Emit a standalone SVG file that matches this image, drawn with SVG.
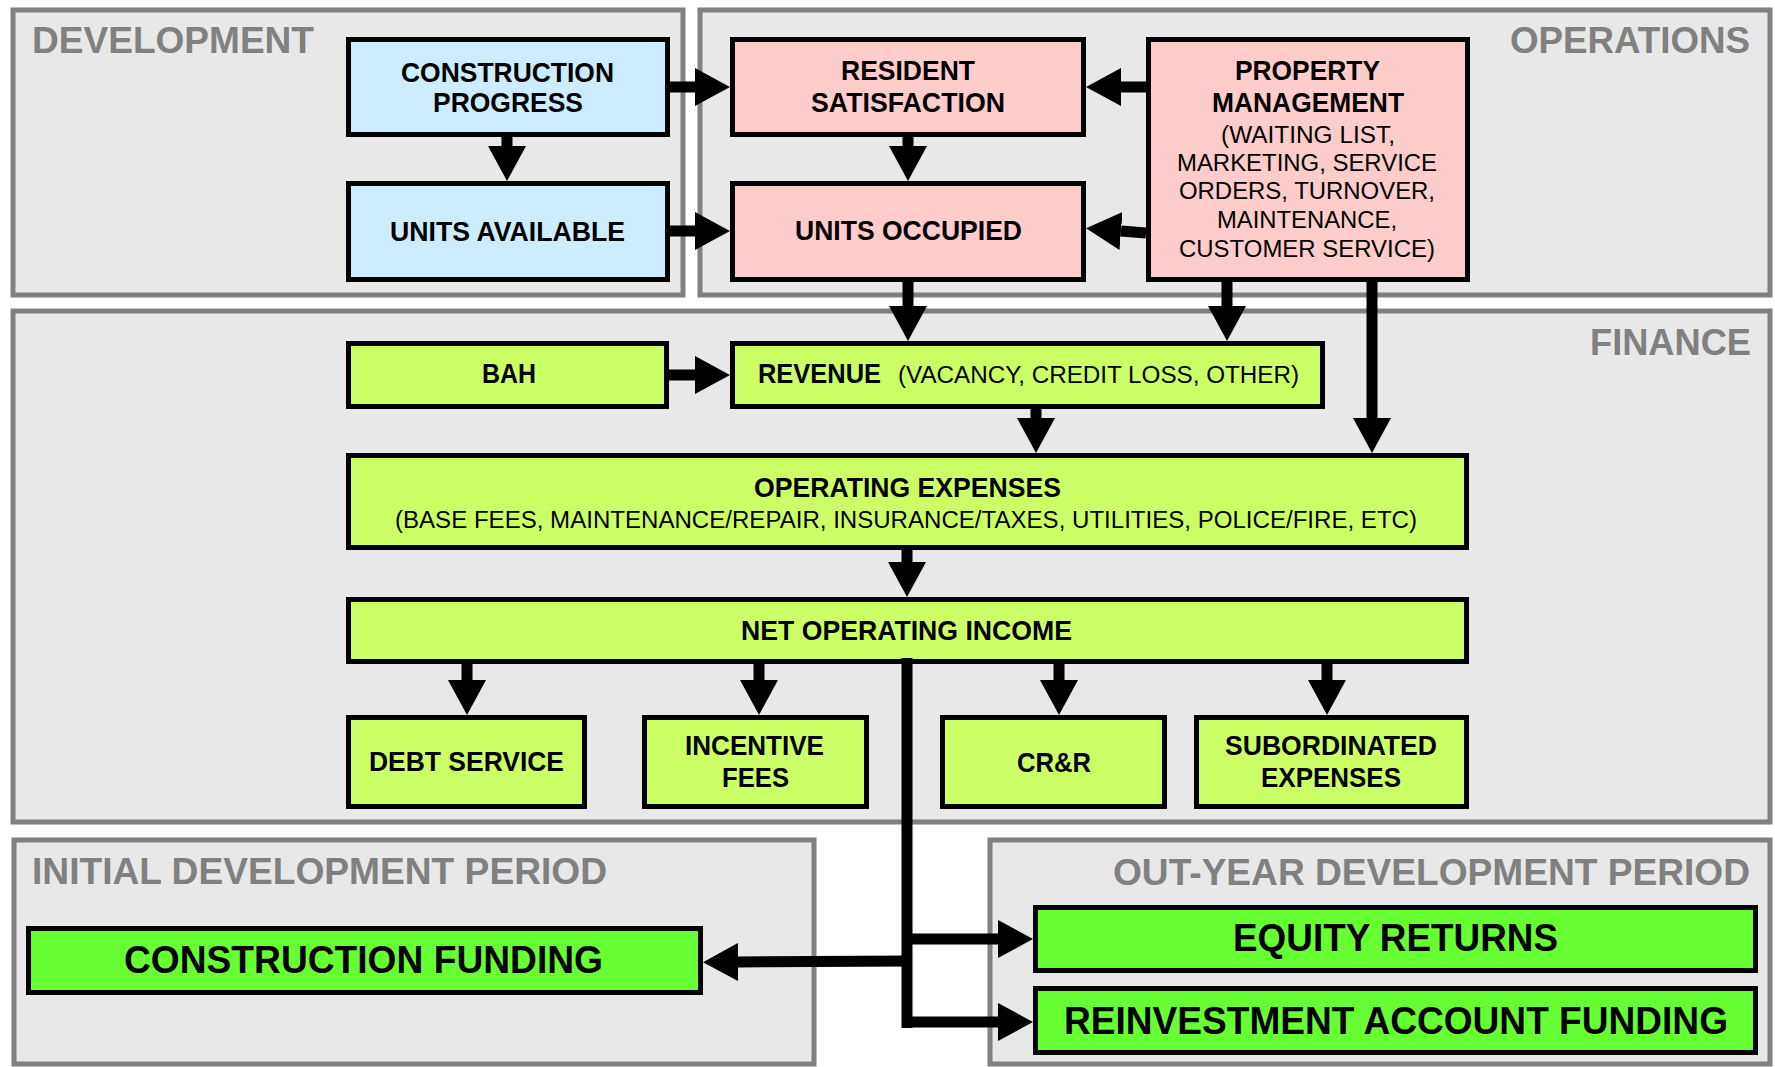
<svg xmlns="http://www.w3.org/2000/svg" width="1775" height="1067" viewBox="0 0 1775 1067">
<defs>
<style>
.panel{fill:#e8e8e8;stroke:#808080;stroke-width:5}
.plabel{font-family:"Liberation Sans",Arial,sans-serif;font-weight:bold;font-size:37px;fill:#808080}
.box{stroke:#000;stroke-width:5}
.blue{fill:#ccecff}
.pink{fill:#ffcccc}
.lime{fill:#ccff66}
.green{fill:#66ff33}
.t{font-family:"Liberation Sans",Arial,sans-serif;font-weight:bold;font-size:28px;fill:#000}
.r{font-family:"Liberation Sans",Arial,sans-serif;font-weight:normal;font-size:23px;fill:#000}
.big{font-family:"Liberation Sans",Arial,sans-serif;font-weight:bold;font-size:38px;fill:#000}
.c{fill:none;stroke:#000;stroke-width:11}
.ca{fill:none;stroke:#000;stroke-width:11;marker-end:url(#ah)}
</style>
<marker id="ah" markerUnits="userSpaceOnUse" markerWidth="36" markerHeight="38" viewBox="0 0 36 38" refX="0" refY="19" orient="auto">
<path d="M0,0 L35,19 L0,38 Z" fill="#000"/>
</marker>
</defs>

<g id="panels">
<rect class="panel" x="13" y="10" width="670" height="285"/>
<rect class="panel" x="700" y="10" width="1070" height="285"/>
<rect class="panel" x="13" y="311" width="1757" height="511"/>
<rect class="panel" x="14" y="840" width="800" height="224"/>
<rect class="panel" x="990" y="840" width="780" height="224"/>
<text class="plabel" x="32" y="53" textLength="282" lengthAdjust="spacingAndGlyphs">DEVELOPMENT</text>
<text class="plabel" x="1510" y="53" textLength="240" lengthAdjust="spacingAndGlyphs">OPERATIONS</text>
<text class="plabel" x="1590" y="355" textLength="161" lengthAdjust="spacingAndGlyphs">FINANCE</text>
<text class="plabel" x="32" y="884" textLength="575" lengthAdjust="spacingAndGlyphs">INITIAL DEVELOPMENT PERIOD</text>
<text class="plabel" x="1113" y="885" textLength="637" lengthAdjust="spacingAndGlyphs">OUT-YEAR DEVELOPMENT PERIOD</text>
</g>

<g id="construction-progress">
<rect class="box blue" x="348.5" y="39.5" width="319" height="95"/>
<text class="t" x="401" y="82" textLength="213" lengthAdjust="spacingAndGlyphs">CONSTRUCTION</text>
<text class="t" x="433" y="112" textLength="150" lengthAdjust="spacingAndGlyphs">PROGRESS</text>
</g>
<g id="units-available">
<rect class="box blue" x="348.5" y="183.5" width="319" height="96"/>
<text class="t" x="390" y="241" textLength="235" lengthAdjust="spacingAndGlyphs">UNITS AVAILABLE</text>
</g>
<g id="resident-satisfaction">
<rect class="box pink" x="732.5" y="39.5" width="351" height="95"/>
<text class="t" x="841" y="80" textLength="134" lengthAdjust="spacingAndGlyphs">RESIDENT</text>
<text class="t" x="811" y="112" textLength="194" lengthAdjust="spacingAndGlyphs">SATISFACTION</text>
</g>
<g id="units-occupied">
<rect class="box pink" x="732.5" y="183.5" width="351" height="96"/>
<text class="t" x="795" y="240" textLength="227" lengthAdjust="spacingAndGlyphs">UNITS OCCUPIED</text>
</g>
<g id="property-management">
<rect class="box pink" x="1148.5" y="39.5" width="319" height="240"/>
<text class="t" x="1235" y="80" textLength="145" lengthAdjust="spacingAndGlyphs">PROPERTY</text>
<text class="t" x="1212" y="112" textLength="192" lengthAdjust="spacingAndGlyphs">MANAGEMENT</text>
<text class="r" x="1221" y="143" textLength="174" lengthAdjust="spacingAndGlyphs">(WAITING LIST,</text>
<text class="r" x="1177" y="171" textLength="260" lengthAdjust="spacingAndGlyphs">MARKETING, SERVICE</text>
<text class="r" x="1179" y="199" textLength="256" lengthAdjust="spacingAndGlyphs">ORDERS, TURNOVER,</text>
<text class="r" x="1217" y="228" textLength="180" lengthAdjust="spacingAndGlyphs">MAINTENANCE,</text>
<text class="r" x="1179" y="257" textLength="256" lengthAdjust="spacingAndGlyphs">CUSTOMER SERVICE)</text>
</g>
<g id="bah">
<rect class="box lime" x="348.5" y="343.5" width="318" height="63"/>
<text class="t" x="482" y="383" textLength="54" lengthAdjust="spacingAndGlyphs">BAH</text>
</g>
<g id="revenue">
<rect class="box lime" x="732.5" y="343.5" width="590" height="63"/>
<text class="t" x="758" y="383" textLength="123" lengthAdjust="spacingAndGlyphs">REVENUE</text>
<text class="r" x="898" y="383" textLength="401" lengthAdjust="spacingAndGlyphs">(VACANCY, CREDIT LOSS, OTHER)</text>
</g>
<g id="operating-expenses">
<rect class="box lime" x="348.5" y="455.5" width="1118" height="92"/>
<text class="t" x="754" y="497" textLength="307" lengthAdjust="spacingAndGlyphs">OPERATING EXPENSES</text>
<text class="r" x="395" y="528" textLength="1022" lengthAdjust="spacingAndGlyphs">(BASE FEES, MAINTENANCE/REPAIR, INSURANCE/TAXES, UTILITIES, POLICE/FIRE, ETC)</text>
</g>
<g id="net-operating-income">
<rect class="box lime" x="348.5" y="599.5" width="1118" height="62"/>
<text class="t" x="741" y="640" textLength="331" lengthAdjust="spacingAndGlyphs">NET OPERATING INCOME</text>
</g>
<g id="debt-service">
<rect class="box lime" x="348.5" y="717.5" width="236" height="89"/>
<text class="t" x="369" y="771" textLength="195" lengthAdjust="spacingAndGlyphs">DEBT SERVICE</text>
</g>
<g id="incentive-fees">
<rect class="box lime" x="644.5" y="717.5" width="222" height="89"/>
<text class="t" x="685" y="755" textLength="139" lengthAdjust="spacingAndGlyphs">INCENTIVE</text>
<text class="t" x="722" y="787" textLength="67" lengthAdjust="spacingAndGlyphs">FEES</text>
</g>
<g id="crr">
<rect class="box lime" x="942.5" y="717.5" width="222" height="89"/>
<text class="t" x="1017" y="772" textLength="74" lengthAdjust="spacingAndGlyphs">CR&amp;R</text>
</g>
<g id="subordinated-expenses">
<rect class="box lime" x="1196.5" y="717.5" width="270" height="89"/>
<text class="t" x="1225" y="755" textLength="212" lengthAdjust="spacingAndGlyphs">SUBORDINATED</text>
<text class="t" x="1261" y="787" textLength="140" lengthAdjust="spacingAndGlyphs">EXPENSES</text>
</g>
<g id="construction-funding">
<rect class="box green" x="28.5" y="928.5" width="672" height="64"/>
<text class="big" x="124" y="973" textLength="479" lengthAdjust="spacingAndGlyphs">CONSTRUCTION FUNDING</text>
</g>
<g id="equity-returns">
<rect class="box green" x="1035.5" y="907.5" width="720" height="63"/>
<text class="big" x="1233" y="951" textLength="325" lengthAdjust="spacingAndGlyphs">EQUITY RETURNS</text>
</g>
<g id="reinvestment-account-funding">
<rect class="box green" x="1035.5" y="988.5" width="720" height="64"/>
<text class="big" x="1064" y="1034" textLength="664" lengthAdjust="spacingAndGlyphs">REINVESTMENT ACCOUNT FUNDING</text>
</g>

<g id="connectors">
<line class="ca" x1="670" y1="87" x2="695" y2="87"/>
<line class="ca" x1="670" y1="231" x2="695" y2="231"/>
<line class="ca" x1="507" y1="137" x2="507" y2="146"/>
<line class="ca" x1="908" y1="137" x2="908" y2="146"/>
<line class="ca" x1="1146" y1="87" x2="1121" y2="87"/>
<line class="ca" x1="1146" y1="233" x2="1121" y2="231"/>
<line class="ca" x1="908" y1="282" x2="908" y2="306"/>
<line class="ca" x1="1227" y1="282" x2="1227" y2="306"/>
<line class="ca" x1="1372" y1="282" x2="1372" y2="418"/>
<line class="ca" x1="669" y1="375" x2="695" y2="375"/>
<line class="ca" x1="1036" y1="409" x2="1036" y2="418"/>
<line class="ca" x1="907" y1="550" x2="907" y2="562"/>
<line class="ca" x1="467" y1="664" x2="467" y2="680"/>
<line class="ca" x1="759" y1="664" x2="759" y2="680"/>
<line class="ca" x1="1059" y1="664" x2="1059" y2="680"/>
<line class="ca" x1="1327" y1="664" x2="1327" y2="680"/>
<line class="c" x1="907" y1="658" x2="907" y2="1028"/>
<line class="ca" x1="902" y1="939" x2="998" y2="939"/>
<line class="ca" x1="902" y1="1022" x2="998" y2="1022"/>
<line class="ca" x1="912" y1="961" x2="738" y2="962"/>
</g>
</svg>
